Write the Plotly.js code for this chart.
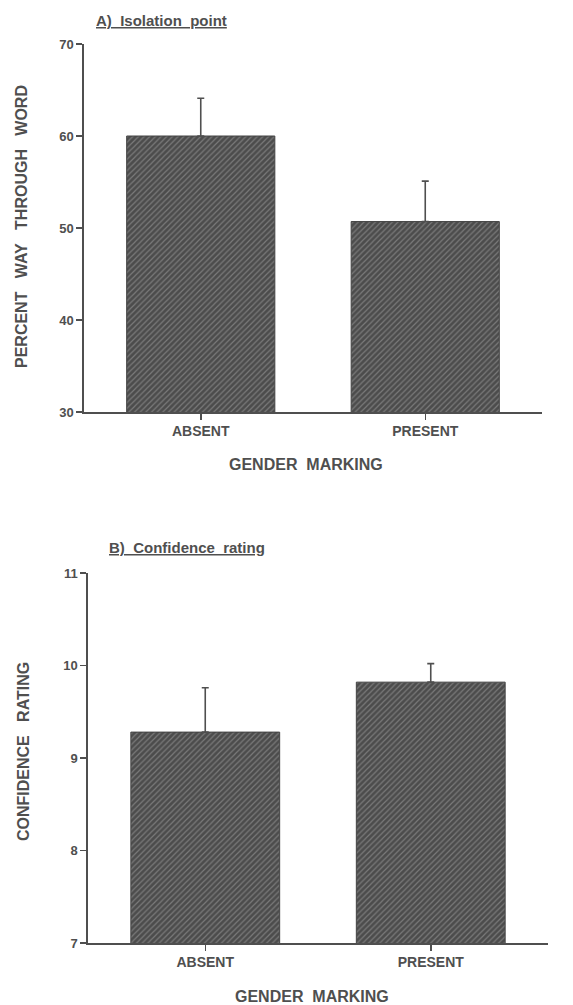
<!DOCTYPE html>
<html>
<head>
<meta charset="utf-8">
<script src="https://cdn.plot.ly/plotly-3.0.1.min.js"></script>
<style>
  html, body { margin: 0; padding: 0; background: #ffffff; }
  #chart { width: 573px; height: 1005px; }
</style>
</head>
<body>
<div id="chart"></div>
<script>
// ---- data ----
const categories = ["ABSENT", "PRESENT"];
const isolationMeans = [60.0, 50.7];
const isolationErrors = [4.1, 4.4];
const confidenceMeans = [9.28, 9.82];
const confidenceErrors = [0.48, 0.20];
const isolationTicks = [30, 40, 50, 60, 70];
const confidenceTicks = [7, 8, 9, 10, 11];

const ink = "#4f4f4f";
const barPattern = { shape: "/", size: 4, solidity: 0.3, fgcolor: "#7a7a7a", bgcolor: "#4c4c4c", fillmode: "replace" };

function barTrace(y, err, xa, ya) {
  return {
    type: "bar",
    x: [0, 1],
    y: y,
    width: 0.66,
    xaxis: xa,
    yaxis: ya,
    marker: { color: "#4c4c4c", pattern: barPattern, line: { color: "#444", width: 1 } },
    error_y: { type: "data", array: err, arrayminus: [0, 0], symmetric: false, color: ink, thickness: 1.6, width: 3.5 },
    showlegend: false,
    hoverinfo: "skip"
  };
}

const fam = "Liberation Sans, Arial, sans-serif";
const tickFont = { family: fam, size: 13, color: ink, weight: "bold" };
const titleFont = { family: fam, size: 15, color: ink, weight: "bold" };

function xAxis(domain, anchor) {
  return {
    domain: domain, anchor: anchor, range: [-0.52, 1.52],
    tickmode: "array", tickvals: [0, 1], ticktext: categories,
    ticks: "outside", ticklen: 6, tickwidth: 1.5, tickcolor: ink,
    showline: true, linecolor: ink, linewidth: 1.6,
    showgrid: false, zeroline: false,
    tickfont: { family: fam, size: 14, color: ink, weight: "bold" }, fixedrange: true
  };
}
function yAxis(domain, anchor, range, tickvals) {
  return {
    domain: domain, anchor: anchor, range: range,
    tickmode: "array", tickvals: tickvals,
    ticks: "outside", ticklen: 6, tickwidth: 1.5, tickcolor: ink,
    showline: true, linecolor: ink, linewidth: 1.6,
    showgrid: false, zeroline: false, tickfont: tickFont, fixedrange: true
  };
}

const data = [
  barTrace(isolationMeans, isolationErrors, "x", "y"),
  barTrace(confidenceMeans, confidenceErrors, "x2", "y2")
];

const sp = "\u00A0\u00A0";
const sp3 = "\u00A0\u00A0\u00A0";
const layout = {
  width: 573, height: 1005,
  margin: { l: 0, r: 0, t: 0, b: 0 },
  paper_bgcolor: "#ffffff", plot_bgcolor: "#ffffff",
  xaxis: xAxis([84/573, 542/573], "y"),
  yaxis: yAxis([1 - 412/1005, 1 - 44/1005], "x", [30, 70], isolationTicks),
  xaxis2: xAxis([88/573, 548/573], "y2"),
  yaxis2: yAxis([1 - 943/1005, 1 - 573/1005], "x2", [7, 11], confidenceTicks),
  annotations: [
    { text: "<u>A)" + sp + "Isolation" + sp + "point</u>", xref: "paper", yref: "paper",
      x: 94/573, y: 1 - 20/1005, xanchor: "left", yanchor: "middle", showarrow: false, font: titleFont },
    { text: "<u>B)" + sp + "Confidence" + sp + "rating</u>", xref: "paper", yref: "paper",
      x: 107/573, y: 1 - 547/1005, xanchor: "left", yanchor: "middle", showarrow: false, font: titleFont },
    { text: "PERCENT" + sp3 + "WAY" + sp3 + "THROUGH" + sp3 + "WORD", xref: "paper", yref: "paper",
      x: 21/573, y: 1 - 227/1005, xanchor: "center", yanchor: "middle", textangle: -90, showarrow: false,
      font: { family: fam, size: 16, color: ink, weight: "bold" } },
    { text: "CONFIDENCE" + sp3 + "RATING", xref: "paper", yref: "paper",
      x: 23/573, y: 1 - 752/1005, xanchor: "center", yanchor: "middle", textangle: -90, showarrow: false,
      font: { family: fam, size: 16, color: ink, weight: "bold" } },
    { text: "GENDER" + sp + "MARKING", xref: "paper", yref: "paper",
      x: 306/573, y: 1 - 464/1005, xanchor: "center", yanchor: "middle", showarrow: false,
      font: { family: fam, size: 16, color: ink, weight: "bold" } },
    { text: "GENDER" + sp + "MARKING", xref: "paper", yref: "paper",
      x: 312/573, y: 1 - 996/1005, xanchor: "center", yanchor: "middle", showarrow: false,
      font: { family: fam, size: 16, color: ink, weight: "bold" } }
  ]
};

Plotly.newPlot("chart", data, layout, { staticPlot: true, displayModeBar: false });
</script>
</body>
</html>
